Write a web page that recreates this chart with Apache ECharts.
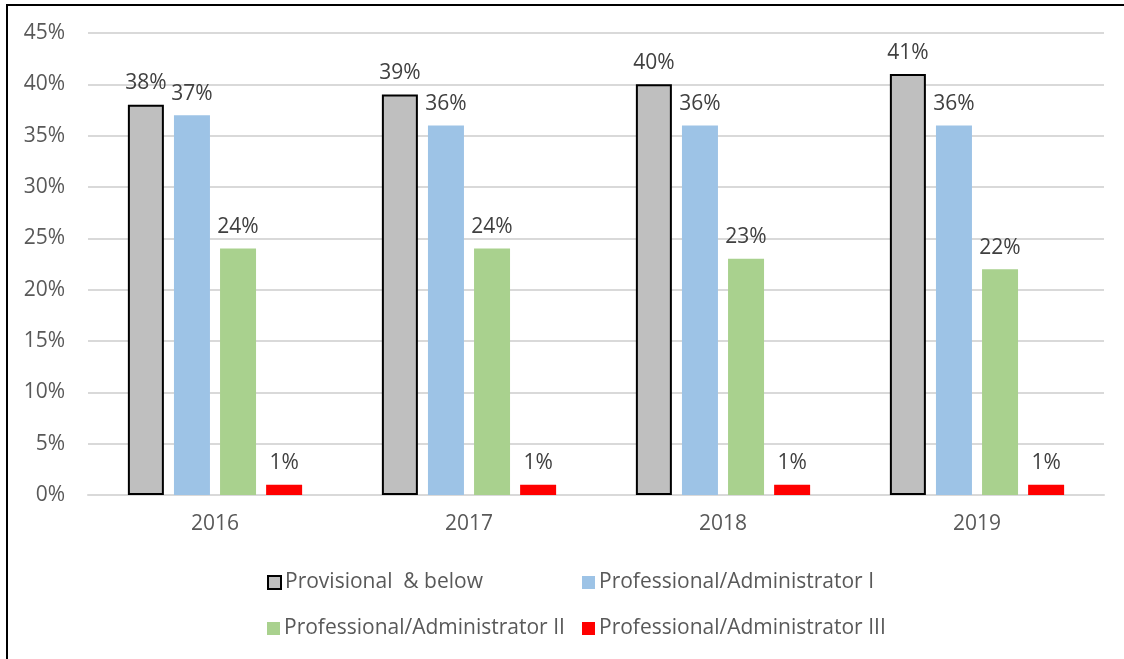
<!DOCTYPE html>
<html>
<head>
<meta charset="utf-8">
<script src="https://cdn.jsdelivr.net/npm/echarts@6/dist/echarts.min.js"></script>
<style>
html,body{margin:0;padding:0;background:#fff;}
#chart{width:1124px;height:659px;}
</style>
</head>
<body>
<div id="chart"></div>
<script>
const categories = ['2016', '2017', '2018', '2019'];
const seriesNames = ['Provisional  & below', 'Professional/Administrator I', 'Professional/Administrator II', 'Professional/Administrator III'];
const provisional = [38, 39, 40, 41];
const profAdmin1 = [37, 36, 36, 36];
const profAdmin2 = [24, 24, 23, 22];
const profAdmin3 = [1, 1, 1, 1];
const yTicks = [0, 5, 10, 15, 20, 25, 30, 35, 40, 45];

const FONT = '"Open Sans", Lato, sans-serif';
const colors = ['#BFBFBF', '#9DC3E6', '#A9D18E', '#FF0000'];
const values = [provisional, profAdmin1, profAdmin2, profAdmin3];

const chart = echarts.init(document.getElementById('chart'), null, {renderer: 'canvas'});

const series = values.map((vals, i) => ({
  name: seriesNames[i],
  type: 'bar',
  data: vals,
  barWidth: 36,
  barGap: '28%',
  itemStyle: i === 0 ? {color: colors[i], borderColor: '#000', borderWidth: 2} : {color: colors[i]},
  label: {
    show: true,
    position: 'top',
    distance: 11,
    formatter: p => p.value + '%',
    color: '#404040',
    fontSize: 21,
    fontFamily: FONT
  }
}));

const legendPos = [[262, 567], [577, 567], [262, 613], [577, 613]];
const legends = seriesNames.map((n, i) => ({
  data: [n],
  left: legendPos[i][0],
  top: legendPos[i][1],
  itemWidth: 13,
  itemHeight: 13,
  itemGap: 6,
  icon: 'rect',
  selectedMode: false,
  textStyle: {color: '#595959', fontSize: 21, fontFamily: FONT, padding: [0, 0, 0, -1]}
}));

chart.setOption({
  animation: false,
  color: colors,
  grid: {left: 88, right: 20, top: 33, bottom: 164, containLabel: false},
  xAxis: {
    type: 'category',
    data: categories,
    axisLine: {show: true, lineStyle: {color: '#D9D9D9', width: 2}},
    axisTick: {show: false},
    axisLabel: {color: '#595959', fontSize: 21, fontFamily: FONT, margin: 19}
  },
  yAxis: {
    type: 'value',
    min: yTicks[0],
    max: yTicks[yTicks.length - 1],
    interval: 5,
    axisLine: {show: false},
    axisTick: {show: false},
    splitLine: {lineStyle: {color: '#D9D9D9', width: 2}},
    axisLabel: {color: '#595959', fontSize: 21, fontFamily: FONT, margin: 23, formatter: v => v + '%'}
  },
  legend: legends,
  series: series,
  graphic: [
    {type: 'line', shape: {x1: 6, y1: 5, x2: 1124, y2: 5}, style: {stroke: '#000', lineWidth: 2}},
    {type: 'line', shape: {x1: 7, y1: 4, x2: 7, y2: 659}, style: {stroke: '#000', lineWidth: 2}}
  ]
});
</script>
</body>
</html>
